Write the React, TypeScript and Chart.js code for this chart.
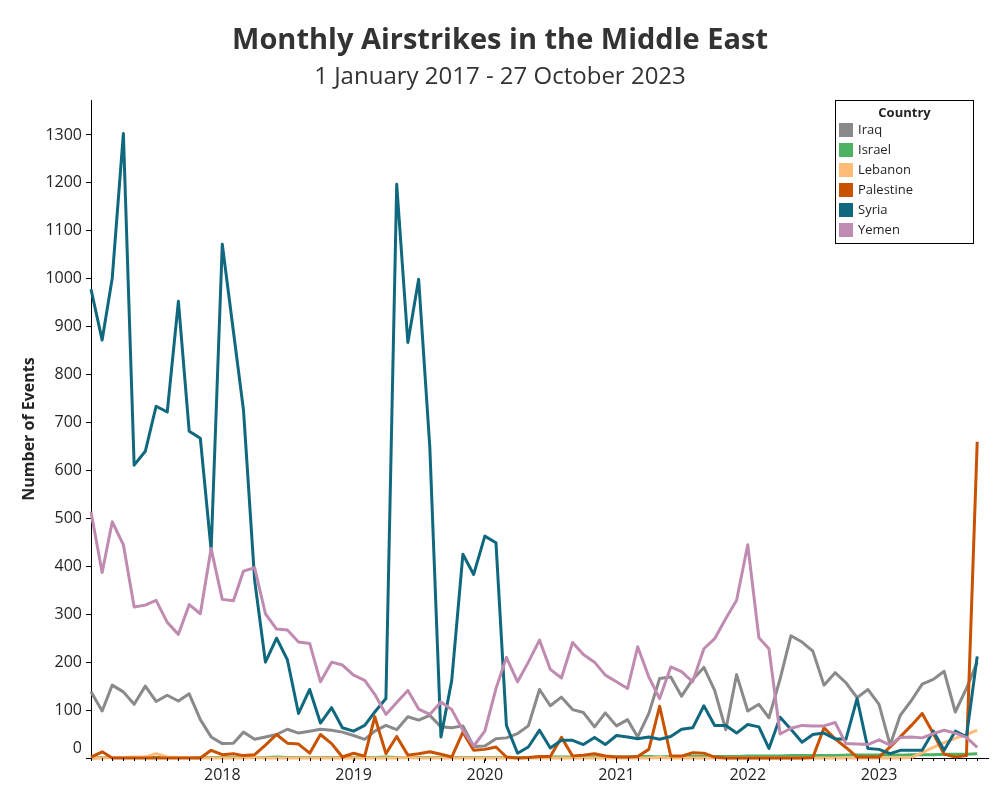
import React, { useEffect, useRef } from 'react';
import { Chart, registerables } from 'chart.js';

Chart.register(...registerables);

const titleText = 'Monthly Airstrikes in the Middle East';
const subtitleText = '1 January 2017 - 27 October 2023';
const yAxisTitle = 'Number of Events';
const legendTitle = 'Country';

const months = [
  '2017-01', '2017-02', '2017-03', '2017-04', '2017-05', '2017-06', '2017-07', '2017-08', '2017-09', '2017-10', '2017-11', '2017-12',
  '2018-01', '2018-02', '2018-03', '2018-04', '2018-05', '2018-06', '2018-07', '2018-08', '2018-09', '2018-10', '2018-11', '2018-12',
  '2019-01', '2019-02', '2019-03', '2019-04', '2019-05', '2019-06', '2019-07', '2019-08', '2019-09', '2019-10', '2019-11', '2019-12',
  '2020-01', '2020-02', '2020-03', '2020-04', '2020-05', '2020-06', '2020-07', '2020-08', '2020-09', '2020-10', '2020-11', '2020-12',
  '2021-01', '2021-02', '2021-03', '2021-04', '2021-05', '2021-06', '2021-07', '2021-08', '2021-09', '2021-10', '2021-11', '2021-12',
  '2022-01', '2022-02', '2022-03', '2022-04', '2022-05', '2022-06', '2022-07', '2022-08', '2022-09', '2022-10', '2022-11', '2022-12',
  '2023-01', '2023-02', '2023-03', '2023-04', '2023-05', '2023-06', '2023-07', '2023-08', '2023-09', '2023-10',
];

const yearTicks = ['2018', '2019', '2020', '2021', '2022', '2023'];

const iraq = [
  138, 98, 152, 138, 112, 150, 118, 131, 119, 134, 80, 44,
  30, 31, 54, 39, 44, 49, 60, 52, 56, 60, 58, 54,
  47, 39, 56, 68, 59, 86, 79, 89, 65, 63, 67, 24,
  25, 40, 42, 51, 67, 143, 109, 127, 101, 95, 65, 94,
  67, 80, 44, 93, 166, 169, 129, 164, 189, 141, 59, 174,
  98, 112, 84, 165, 255, 242, 223, 152, 178, 157, 126, 143,
  112, 27, 89, 120, 154, 164, 181, 96, 145, 200,
];

const israel = [
  0, 1, 1, 1, 1, 1, 1, 1, 1, 1, 1, 1,
  1, 1, 1, 1, 1, 2, 1, 1, 1, 1, 1, 1,
  1, 1, 1, 2, 1, 1, 1, 1, 1, 1, 1, 1,
  1, 1, 1, 1, 1, 1, 2, 2, 2, 2, 2, 2,
  2, 2, 3, 3, 2, 3, 3, 3, 3, 3, 3, 3,
  4, 4, 4, 4, 5, 5, 5, 5, 5, 6, 6, 6,
  6, 6, 6, 7, 7, 7, 8, 8, 8, 9,
];

const lebanon = [
  0, 0, 1, 1, 2, 2, 9, 2, 1, 1, 0, 0,
  0, 0, 0, 1, 0, 0, 0, 0, 0, 0, 0, 0,
  0, 0, 0, 0, 0, 1, 0, 0, 0, 0, 0, 0,
  0, 0, 0, 0, 0, 0, 0, 0, 0, 0, 0, 0,
  0, 0, 0, 0, 1, 0, 0, 0, 0, 0, 0, 0,
  0, 0, 0, 0, 0, 0, 0, 0, 0, 0, 0, 0,
  0, 0, 0, 1, 11, 22, 32, 41, 49, 58,
];

const palestine = [
  2, 13, 0, 0, 0, 0, 0, 0, 0, 0, 0, 16,
  7, 9, 5, 7, 27, 49, 31, 29, 10, 49, 30, 2,
  10, 4, 86, 9, 45, 6, 9, 13, 8, 2, 54, 16,
  18, 23, 2, 0, 1, 3, 3, 43, 4, 6, 9, 4,
  2, 2, 3, 18, 108, 4, 4, 11, 10, 2, 0, 0,
  0, 0, 0, 0, 0, 0, 1, 63, 40, 22, 2, 2,
  2, 23, 44, 68, 93, 51, 8, 2, 5, 660,
];

const syria = [
  978, 872, 1001, 1303, 611, 640, 734, 722, 953, 682, 667, 434,
  1072, 890, 726, 371, 200, 250, 205, 93, 143, 73, 105, 63,
  56, 68, 96, 124, 1197, 867, 999, 649, 44, 162, 425, 383,
  463, 449, 68, 10, 23, 58, 21, 37, 37, 28, 43, 28,
  47, 44, 40, 44, 39, 45, 60, 63, 109, 68, 68, 52,
  70, 65, 20, 85, 60, 33, 49, 52, 40, 39, 124, 20,
  18, 9, 16, 16, 16, 56, 16, 56, 44, 212,
];

const yemen = [
  514, 387, 493, 445, 315, 319, 329, 283, 258, 320, 301, 437,
  331, 328, 390, 397, 301, 269, 267, 242, 239, 159, 200, 194,
  173, 162, 133, 91, 116, 141, 102, 91, 117, 101, 58, 25,
  56, 145, 210, 159, 200, 246, 185, 167, 241, 216, 200, 173,
  159, 145, 232, 169, 124, 190, 180, 159, 228, 249, 291, 329,
  445, 251, 228, 50, 62, 68, 67, 67, 74, 30, 29, 28,
  38, 27, 43, 44, 42, 51, 58, 52, 43, 22,
];

const countries = ['Iraq', 'Israel', 'Lebanon', 'Palestine', 'Syria', 'Yemen'];
const seriesValues = [iraq, israel, lebanon, palestine, syria, yemen];
const colors = ['#8a8a8a', '#4fb162', '#ffbc79', '#c85200', '#10687e', '#c08bb0'];

const FONT = "'Open Sans', 'Noto Sans', sans-serif";
const TEXT = '#242424';

const toDay = (ym: string) => {
  const [y, m] = ym.split('-').map(Number);
  return (Date.UTC(y, m - 1, 1) - Date.UTC(2017, 0, 1)) / 86400000;
};

const minorTicksPlugin = {
  id: 'minorTicks',
  afterDraw(chart: any) {
    const xs = chart.scales.x;
    const ctx = chart.ctx;
    const bottom = chart.chartArea.bottom;
    ctx.save();
    ctx.strokeStyle = '#000';
    ctx.lineWidth = 1;
    months.forEach((m) => {
      const px = Math.round(xs.getPixelForValue(toDay(m))) + 0.5;
      ctx.beginPath();
      ctx.moveTo(px, bottom);
      ctx.lineTo(px, bottom + 3);
      ctx.stroke();
    });
    ctx.restore();
  },
};

const boxLegendPlugin = {
  id: 'boxLegend',
  afterDraw(chart: any) {
    const ctx = chart.ctx;
    const area = chart.chartArea;
    const w = 138;
    const h = 143;
    const x0 = Math.round(area.right - 153) + 0.5;
    const y0 = Math.round(area.top) + 0.5;
    ctx.save();
    ctx.fillStyle = '#fff';
    ctx.fillRect(x0, y0, w, h);
    ctx.strokeStyle = '#000';
    ctx.lineWidth = 1;
    ctx.strokeRect(x0, y0, w, h);
    ctx.fillStyle = TEXT;
    ctx.textBaseline = 'middle';
    ctx.textAlign = 'center';
    ctx.font = `bold 13px ${FONT}`;
    ctx.fillText(legendTitle, x0 + w / 2, y0 + 12.5);
    ctx.textAlign = 'left';
    ctx.font = `13px ${FONT}`;
    chart.data.datasets.forEach((ds: any, i: number) => {
      const cy = y0 + 29.5 + i * 20;
      ctx.fillStyle = ds.borderColor;
      ctx.fillRect(x0 + 3.5, cy - 7, 14, 14);
      ctx.fillStyle = TEXT;
      ctx.fillText(ds.label, x0 + 22.5, cy);
    });
    ctx.restore();
  },
};

export default function App() {
  const ref = useRef<HTMLCanvasElement>(null);

  useEffect(() => {
    document.body.style.margin = '0';
    const canvas = ref.current;
    if (!canvas) return;
    Chart.defaults.font.family = FONT;
    const days = months.map(toDay);
    const yearDays = yearTicks.map((y) => toDay(`${y}-01`));

    const datasets = countries.map((name, k) => ({
      label: name,
      data: seriesValues[k].map((v, i) => ({ x: days[i], y: v })),
      borderColor: colors[k],
      backgroundColor: colors[k],
      borderWidth: 3,
      pointRadius: 0,
      pointHoverRadius: 0,
      tension: 0,
      fill: false,
      clip: false as any,
      borderJoinStyle: 'round' as const,
      order: countries.length - k,
    }));

    const chart = new Chart(canvas, {
      type: 'line',
      data: { datasets },
      plugins: [minorTicksPlugin, boxLegendPlugin],
      options: {
        animation: false,
        responsive: false,
        devicePixelRatio: 1,
        events: [],
        layout: { padding: { left: 12, right: 12, top: 0, bottom: 0 } },
        plugins: {
          legend: { display: false },
          tooltip: { enabled: false },
          title: {
            display: true,
            text: titleText,
            color: '#333',
            font: { size: 29, weight: 'bold', family: FONT },
            padding: { top: 23.3, bottom: 0 },
          },
          subtitle: {
            display: true,
            text: subtitleText,
            color: '#333',
            font: { size: 24, weight: 'normal', family: FONT },
            padding: { top: 4.6, bottom: 8.5 },
          },
        },
        scales: {
          x: {
            type: 'linear',
            min: 0,
            max: 2494,
            afterBuildTicks: (s: any) => {
              s.ticks = yearDays.map((v) => ({ value: v }));
            },
            afterFit: (s: any) => {
              s.height = 42;
            },
            ticks: {
              autoSkip: false,
              maxRotation: 0,
              padding: 3,
              color: TEXT,
              font: { size: 16 },
              callback: (v: any) => {
                const i = yearDays.indexOf(Number(v));
                return i >= 0 ? yearTicks[i] : '';
              },
            },
            grid: { display: true, drawOnChartArea: false, tickLength: 5, tickColor: '#000', tickWidth: 1 },
            border: { display: true, color: '#000', width: 1 },
          },
          y: {
            type: 'linear',
            min: 0,
            max: 1373,
            afterBuildTicks: (s: any) => {
              s.ticks = s.ticks.filter((t: any) => t.value % 100 === 0);
            },
            afterFit: (s: any) => {
              s.width = 79;
            },
            ticks: {
              stepSize: 100,
              padding: 4,
              color: TEXT,
              font: { size: 16 },
              callback: (v: any) => (Number(v) === 0 ? ['0', ''] : String(v)),
            },
            grid: { display: true, drawOnChartArea: false, tickLength: 5, tickColor: '#000', tickWidth: 1 },
            border: { display: true, color: '#000', width: 1 },
            title: {
              display: true,
              text: yAxisTitle,
              color: TEXT,
              font: { size: 16, weight: 'bold' },
              padding: { top: 8, bottom: 0 },
            },
          },
        },
      },
    });

    return () => chart.destroy();
  }, []);

  return (
    <div style={{ width: 1000, height: 800, background: '#fff' }}>
      <canvas ref={ref} width={1000} height={800} style={{ display: 'block' }} />
    </div>
  );
}
